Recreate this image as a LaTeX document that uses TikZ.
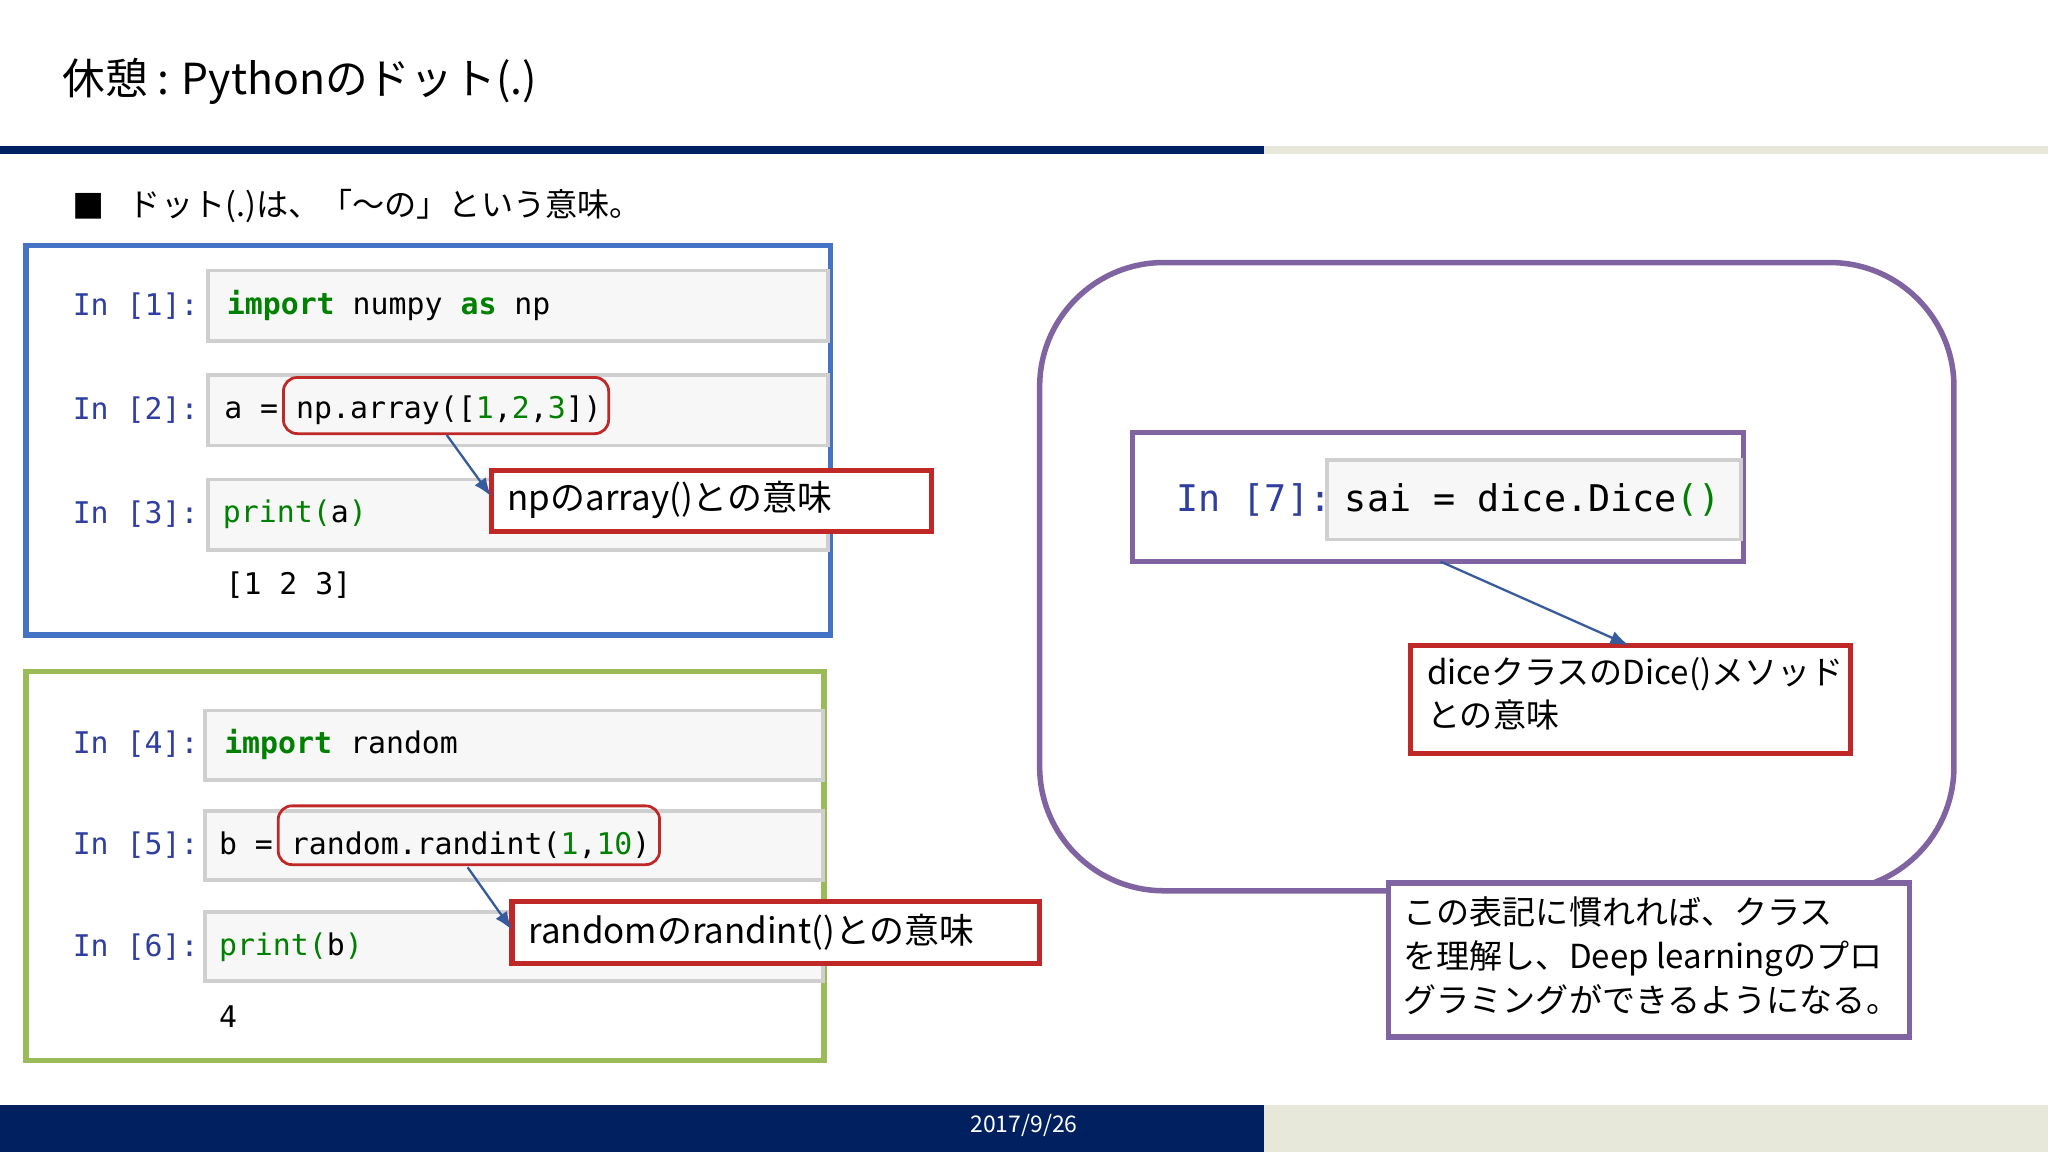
\documentclass[tikz,border=0pt]{standalone}
\usepackage{fontspec}
\setmainfont{Noto Sans CJK JP}
\newfontfamily\cjk{Noto Sans CJK JP}
\newfontfamily\mono{DejaVu Sans Mono}
\usetikzlibrary{arrows.meta}
\definecolor{navy}{RGB}{0,32,96}
\definecolor{beige}{RGB}{232,232,218}
\definecolor{bluebox}{RGB}{68,114,196}
\definecolor{greenbox}{RGB}{155,187,89}
\definecolor{purp}{RGB}{128,100,162}
\definecolor{redb}{RGB}{192,40,40}
\definecolor{promptc}{RGB}{48,63,159}
\definecolor{kw}{RGB}{0,128,0}
\definecolor{cellf}{RGB}{247,247,247}
\definecolor{celld}{RGB}{207,207,207}
\tikzset{
 cell/.style={draw=celld,fill=cellf,line width=0.8pt},
 prompt/.style={anchor=west,inner sep=0pt,text=promptc,font=\mono\fontsize{6.5}{8}\selectfont},
 code/.style={anchor=west,inner sep=0pt,font=\mono\fontsize{6.5}{8}\selectfont},
 annbox/.style={draw=redb,line width=1.1pt,fill=white},
 anntext/.style={anchor=west,inner sep=0pt,font=\cjk\fontsize{7.6}{9.5}\selectfont,align=left},
 hl/.style={draw=redb,line width=0.6pt,rounded corners=3pt},
 arr/.style={draw=bluebox!80!black,line width=0.5pt,-{Latex[length=4pt]}},
 frame/.style={line width=1.2pt},
}
\begin{document}
\begin{tikzpicture}[x=0.01cm,y=-0.01cm]
\useasboundingbox (0,0) rectangle (1568,882);
\fill[white] (0,0) rectangle (1568,882);
\node[anchor=west,inner sep=0pt,font=\cjk\fontsize{9.3}{11}\selectfont] (title) at (47,62) {休憩 : Pythonのドット(.)};
\fill[navy] (0,112) rectangle (968,118);
\fill[beige] (968,112) rectangle (1568,118);
\node[anchor=west,inner sep=0pt,font=\cjk\fontsize{7}{9}\selectfont] (bm) at (55,158) {■};
\node[anchor=west,inner sep=0pt,font=\cjk\fontsize{7}{9}\selectfont] (bul) at (98,158) {ドット(.)は、「～の」という意味。};
% blue box
\draw[bluebox,frame] (20,188) rectangle (636,486);
\draw[cell] (159,207) rectangle (634,261);
\draw[cell] (159,287) rectangle (634,341);
\draw[cell] (159,367) rectangle (634,421);
\node[prompt] (p1) at (55,234) {In [1]:};
\node[prompt] (p2) at (55,314) {In [2]:};
\node[prompt] (p3) at (55,394) {In [3]:};
\node[code] (c1) at (173,234) {\textcolor{kw}{\textbf{import}} numpy \textcolor{kw}{\textbf{as}} np};
\node[code] (c2) at (171,314) {a = np.array([\textcolor{kw}{1},\textcolor{kw}{2},\textcolor{kw}{3}])};
\node[code] (c3) at (170,394) {\textcolor{kw}{print(}a\textcolor{kw}{)}};
\node[code] (o3) at (172,448) {[1 2 3]};
\draw[hl] (217,289) rectangle (466,332);
\coordinate (s1) at (342,333);
\draw[annbox] (376,360) rectangle (713,407);
\node[anntext] (a1) at (388,383) {npのarray()との意味};
\coordinate (e1) at (376,380);
\draw[arr] (s1) -- (e1);
% green box
\draw[greenbox,frame] (20,514) rectangle (631,812);
\draw[cell] (157,544) rectangle (630,597);
\draw[cell] (157,621) rectangle (630,674);
\draw[cell] (157,698) rectangle (630,751);
\node[prompt] (p4) at (55,570) {In [4]:};
\node[prompt] (p5) at (55,647) {In [5]:};
\node[prompt] (p6) at (55,725) {In [6]:};
\node[code] (c4) at (171,570) {\textcolor{kw}{\textbf{import}} random};
\node[code] (c5) at (167,647) {b = random.randint(\textcolor{kw}{1},\textcolor{kw}{10})};
\node[code] (c6) at (167,725) {\textcolor{kw}{print(}b\textcolor{kw}{)}};
\node[code] (o6) at (167,778) {4};
\draw[hl] (213,617) rectangle (505,662);
\coordinate (s2) at (358,664);
\draw[annbox] (392,690) rectangle (796,738);
\node[anntext] (a2) at (404,714) {randomのrandint()との意味};
\coordinate (e2) at (392,712);
\draw[arr] (s2) -- (e2);
% purple
\draw[purp,frame,rounded corners=0.95cm] (796,201) rectangle (1496,682);
\draw[purp,frame] (867,331) rectangle (1335,430);
\draw[cell] (1016,352) rectangle (1333,413);
\node[prompt,font=\mono\fontsize{8}{10}\selectfont] (p7) at (900,383) {In [7]:};
\node[code,font=\mono\fontsize{8}{10}\selectfont] (c7) at (1029,383) {sai = dice.Dice\textcolor{kw}{()}};
\coordinate (s3) at (1103,430);
\coordinate (e3) at (1247,494);
\draw[annbox] (1080,494) rectangle (1417,577);
\node[anntext,anchor=north west,font=\cjk\fontsize{7.2}{9.3}\selectfont] (a3) at (1092,503) {diceクラスのDice()メソッド\\との意味};
\draw[arr] (s3) -- (e3);
\draw[purp,frame,fill=white] (1063,676) rectangle (1462,794);
\node[anntext,anchor=north west,font=\cjk\fontsize{7.2}{9.6}\selectfont] (note) at (1074,686) {この表記に慣れれば、クラス\\を理解し、Deep learningのプロ\\グラミングができるようになる。};
% footer
\fill[navy] (0,846) rectangle (968,882);
\fill[beige] (968,846) rectangle (1568,882);
\node[text=white,font=\cjk\fontsize{5}{6}\selectfont] (date) at (784,862) {2017/9/26};
\end{tikzpicture}
\end{document}
